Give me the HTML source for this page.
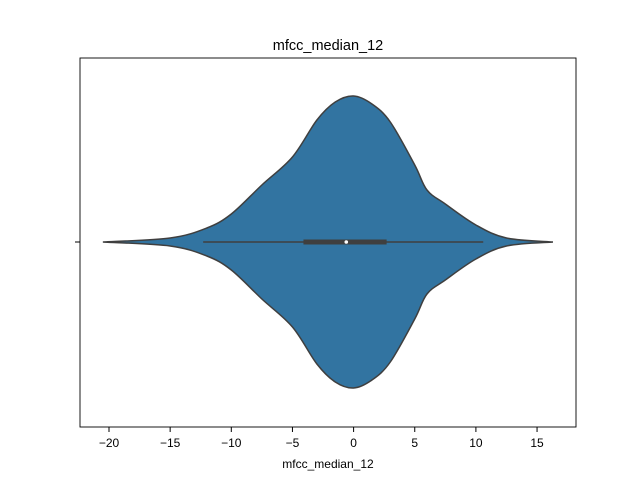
<!DOCTYPE html>
<html><head><meta charset="utf-8"><style>
body{margin:0;background:#fff;}
svg text{font-family:"Liberation Sans","DejaVu Sans",sans-serif;fill:#000;}
</style></head><body>
<svg width="640" height="480">
<rect width="640" height="480" fill="#fff"/>
<text x="328" y="50" font-size="14.5" text-anchor="middle">mfcc_median_12</text>
<g id="plot"></g>
<rect x="80" y="58" width="496" height="369" fill="none" stroke="#000" stroke-width="0.9"/>
<line x1="75" y1="242" x2="80" y2="242" stroke="#000"/>
<g id="xaxis"></g>
<text x="328" y="468" font-size="12" text-anchor="middle">mfcc_median_12</text>
</svg>
<script>
const xs=[-20.5,-15,-12,-10,-7.5,-5,-3,-1.5,0,1.5,3,5,6,7.5,10,12.5,16.3];
const density=[0,4,14,28,57,85,122,140,146,138,120,77,52,38,17,4,0];
const ticks=[-20,-15,-10,-5,0,5,10,15];
const tickLabels=["\u221220","\u221215","\u221210","\u22125","0","5","10","15"];
const boxStats={whiskerLow:-12.3,q1:-4.1,median:-0.6,q3:2.7,whiskerHigh:10.6};
const NS="http://www.w3.org/2000/svg";
const X=v=>353.6+v*12.23;
const CY=242;
const W=d=>d;
const plot=document.getElementById('plot');
function pts(){
  const up=xs.map((x,i)=>[X(x),CY-W(density[i])]);
  const lo=xs.map((x,i)=>[X(x),CY+W(density[i])]).reverse();
  function cr(p){let d='';for(let i=0;i<p.length-1;i++){const p0=p[i-1]||p[i],p1=p[i],p2=p[i+1],p3=p[i+2]||p2;
    const c1=[p1[0]+(p2[0]-p0[0])/6,p1[1]+(p2[1]-p0[1])/6],c2=[p2[0]-(p3[0]-p1[0])/6,p2[1]-(p3[1]-p1[1])/6];
    d+=` C${c1[0]},${c1[1]} ${c2[0]},${c2[1]} ${p2[0]},${p2[1]}`;}return d;}
  return `M${up[0][0]},${up[0][1]}`+cr(up)+` L${lo[0][0]},${lo[0][1]}`+cr(lo)+'Z';
}
const v=document.createElementNS(NS,'path');
v.setAttribute('d',pts());v.setAttribute('fill','#3274a1');v.setAttribute('stroke','#3f3f3f');v.setAttribute('stroke-width','1.5');


plot.appendChild(v);
function line(x1,y1,x2,y2,w,c,name){const l=document.createElementNS(NS,'line');
 l.setAttribute('x1',x1);l.setAttribute('y1',y1);l.setAttribute('x2',x2);l.setAttribute('y2',y2);
 l.setAttribute('stroke',c);l.setAttribute('stroke-width',w);
 
 
 plot.appendChild(l);}
line(X(boxStats.whiskerLow),CY,X(boxStats.whiskerHigh),CY,1.5,'#3f3f3f','whisker');
line(X(boxStats.q1),CY,X(boxStats.q3),CY,5,'#3f3f3f','iqr-box');
const m=document.createElementNS(NS,'circle');
m.setAttribute('cx',X(boxStats.median));m.setAttribute('cy',CY);m.setAttribute('r',1.8);m.setAttribute('fill','#fff');


plot.appendChild(m);
const xa=document.getElementById('xaxis');
ticks.forEach((t,i)=>{
 const l=document.createElementNS(NS,'line');
 l.setAttribute('x1',X(t));l.setAttribute('x2',X(t));l.setAttribute('y1',427);l.setAttribute('y2',432);l.setAttribute('stroke','#000');
 
 
 xa.appendChild(l);
 const tx=document.createElementNS(NS,'text');
 tx.setAttribute('x',X(t));tx.setAttribute('y',447);tx.setAttribute('font-size','12');tx.setAttribute('text-anchor','middle');
 tx.textContent=tickLabels[i];
 
 
 xa.appendChild(tx);
});
</script>
</body></html>
